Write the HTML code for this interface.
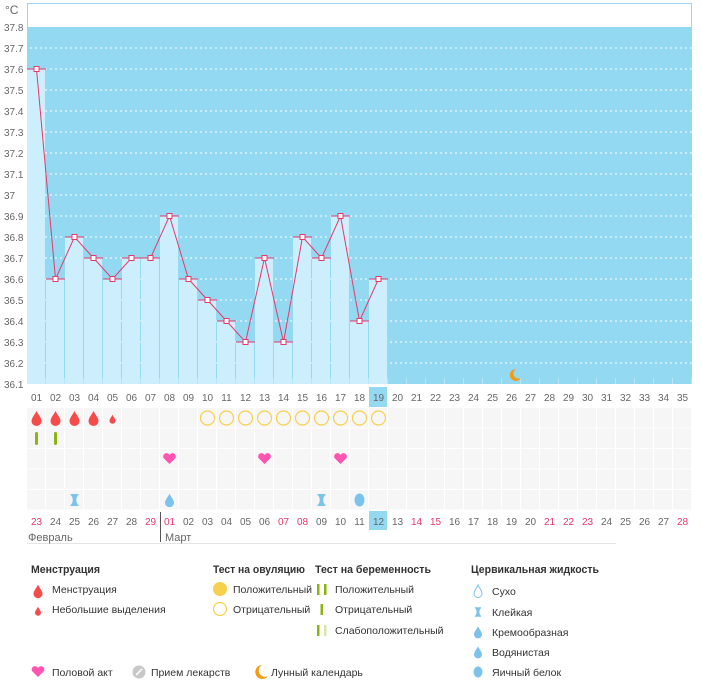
<!DOCTYPE html>
<html><head><meta charset="utf-8"><style>
body{margin:0;background:#fff;font-family:"Liberation Sans","DejaVu Sans",sans-serif;}
svg text{font-family:"Liberation Sans","DejaVu Sans",sans-serif;}
</style></head><body>
<svg id="s" width="701" height="679" xmlns="http://www.w3.org/2000/svg"></svg>
<script>
var s='';
function X(i){return 27+(i-1)*19;}
s+='<rect x="27.5" y="3.5" width="664" height="380" fill="#fff" stroke="#9ad8f0"/>';
s+='<rect x="27" y="27" width="665" height="357" fill="#93d9f2"/>';
s+='<text x="5" y="14" font-size="12" fill="#666">°C</text>';
var labs=['37.8','37.7','37.6','37.5','37.4','37.3','37.2','37.1','37','36.9','36.8','36.7','36.6','36.5','36.4','36.3','36.2','36.1'];
for(var k=0;k<18;k++){var y=27+k*21;s+='<text x="4" y="'+(y+4)+'" font-size="10" fill="#666">'+labs[k]+'</text>';
 if(k>0&&k<17)s+='<line x1="30" y1="'+y+'" x2="692" y2="'+y+'" stroke="#fff" stroke-dasharray="2,3" stroke-width="1"/>';}
var t=[37.6,36.6,36.8,36.7,36.6,36.7,36.7,36.9,36.6,36.5,36.4,36.3,36.7,36.3,36.8,36.7,36.9,36.4,36.6];
function Y(v){return 27+(37.8-v)*210;}
for(var i=1;i<=19;i++){var y=Y(t[i-1]);s+='<rect x="'+X(i)+'" y="'+y+'" width="18" height="'+(384-y)+'" fill="#cdeefd"/>';
 s+='<line x1="'+X(i)+'" y1="'+y+'" x2="'+(X(i)+19)+'" y2="'+y+'" stroke="#e8386a" stroke-width="1"/>';}
for(var i=1;i<=35;i++){s+='<line x1="'+(X(i)+18.5)+'" y1="378" x2="'+(X(i)+18.5)+'" y2="384" stroke="#b9e6f7"/>';}
var pts='';for(var i=1;i<=19;i++)pts+=(X(i)+9.5)+','+Y(t[i-1])+' ';
s+='<polyline points="'+pts+'" fill="none" stroke="#e8386a" stroke-width="1"/>';
for(var i=1;i<=19;i++)s+='<rect x="'+(X(i)+7)+'" y="'+(Y(t[i-1])-2.5)+'" width="5" height="5" fill="#fff" stroke="#e8386a"/>';
s+='<path d="M516 369 a6 6 0 1 0 5 9 a5 5 0 0 1 -5 -9z" fill="#f39c12"/>';
s+='<rect x="'+X(19)+'" y="387" width="18" height="20" fill="#93d9f2"/>';
for(var i=1;i<=35;i++){s+='<text x="'+(X(i)+9.5)+'" y="401" font-size="10" fill="#666" text-anchor="middle">'+(i<10?'0'+i:i)+'</text>';}
for(var r=0;r<5;r++)for(var i=1;i<=35;i++)s+='<rect x="'+X(i)+'" y="'+(408+r*20.5)+'" width="18" height="19.5" fill="#f6f6f7"/>';
function drop(cx,cy,sc,c){return '<path transform="translate('+cx+','+cy+') scale('+sc+')" d="M0 -7 C2 -3 5 0 5 3 A5 5 0 0 1 -5 3 C-5 0 -2 -3 0 -7z" fill="'+c+'"/>';}
for(var i=1;i<=4;i++)s+=drop(X(i)+9.5,418,1,'#f44b4b');
s+=drop(X(5)+9.5,419,0.6,'#f44b4b');
for(var i=10;i<=19;i++)s+='<circle cx="'+(X(i)+9.5)+'" cy="418" r="7" fill="none" stroke="#f7d14c" stroke-width="1.2"/>';
for(var i=1;i<=2;i++)s+='<rect x="'+(X(i)+8)+'" y="432" width="3" height="13" rx="1.5" fill="#8bb312"/>';
function heart(cx,cy,c){return '<path transform="translate('+cx+','+cy+')" d="M0 5 L-6 -1 A3.2 3.2 0 0 1 0 -4 A3.2 3.2 0 0 1 6 -1z" fill="'+c+'"/>';}
[8,13,17].forEach(function(i){s+=heart(X(i)+9.5,459,'#ff55b0');});
function hg(cx,cy,sc){return '<path transform="translate('+cx+','+cy+') scale('+(sc||1)+')" d="M-4 -6 H4 V-5 C1 -3 1 3 4 5 V6 H-4 V5 C-1 3 -1 -3 -4 -5z" fill="#7cc3ec"/>';}
s+=hg(X(3)+9.5,500)+hg(X(16)+9.5,500);
s+=drop(X(8)+9.5,500,0.9,'#7cc3ec');
s+='<ellipse cx="'+(X(18)+9.5)+'" cy="500" rx="5" ry="6.5" fill="#7cc3ec"/>';
var d=['23','24','25','26','27','28','29'];for(var i=1;i<=28;i++)d.push(i<10?'0'+i:''+i);
var red={'23':1,'29':1,'01':1,'07':1,'08':1,'14':1,'15':1,'21':1,'22':1,'28':1};
s+='<rect x="'+X(19)+'" y="511" width="18" height="19" fill="#93d9f2"/>';
for(var i=1;i<=35;i++){var dd=d[i-1];var c=(red[dd]&&!(i<=7&&dd!='23'&&dd!='29'))?'#e8386a':'#666';
 s+='<text x="'+(X(i)+9.5)+'" y="525" font-size="10" fill="'+c+'" text-anchor="middle">'+dd+'</text>';}
s+='<line x1="160.5" y1="512" x2="160.5" y2="542" stroke="#555"/>';
s+='<line x1="27" y1="543.5" x2="616" y2="543.5" stroke="#e4e4e4"/>';
s+='<text x="28" y="541" font-size="11" fill="#666">Февраль</text><text x="165" y="541" font-size="11" fill="#666">Март</text>';
function tx(x,y,str,b,L){return '<text x="'+x+'" y="'+y+'" font-size="'+(b?11:10.5)+'" fill="#333"'+(b?' font-weight="bold"':'')+(L?' textLength="'+L+'" lengthAdjust="spacingAndGlyphs"':'')+'>'+str+'</text>';}
s+=tx(31,573,'Менструация',1,69)+tx(213,573,'Тест на овуляцию',1,92)+tx(315,573,'Тест на беременность',1,116)+tx(471,573,'Цервикальная жидкость',1,128);
s+=drop(38,591,0.9,'#f44b4b')+tx(52,593,'Менструация');
s+=drop(38,611,0.6,'#f44b4b')+tx(52,613,'Небольшие выделения');
s+='<circle cx="220" cy="589" r="7" fill="#f7d14c"/>'+tx(233,593,'Положительный');
s+='<circle cx="220" cy="609" r="6.5" fill="none" stroke="#f7d14c" stroke-width="1.2"/>'+tx(233,613,'Отрицательный');
s+='<rect x="317" y="584" width="2.5" height="11" fill="#8bb312"/><rect x="324" y="584" width="2.5" height="11" fill="#8bb312"/>'+tx(335,593,'Положительный');
s+='<rect x="320.5" y="604" width="2.5" height="11" fill="#8bb312"/>'+tx(335,613,'Отрицательный');
s+='<rect x="317" y="625" width="2.5" height="11" fill="#8bb312"/><rect x="324" y="625" width="2.5" height="11" fill="#d4e7a8"/>'+tx(335,634,'Слабоположительный');
s+='<path transform="translate(478,591)" d="M0 -6 C2 -2 4 0 4 2.5 A4 4 0 0 1 -4 2.5 C-4 0 -2 -2 0 -6z" fill="none" stroke="#7cc3ec"/>'+tx(492,595,'Сухо');
s+=hg(478,612,0.8)+tx(492,616,'Клейкая');
s+=drop(478,632,0.8,'#7cc3ec')+tx(492,636,'Кремообразная');
s+=drop(478,652,0.8,'#7cc3ec')+tx(492,656,'Водянистая');
s+='<ellipse cx="478" cy="672" rx="4.5" ry="5.5" fill="#7cc3ec"/>'+tx(492,676,'Яичный белок');
s+=heart(38,672,'#ff55b0')+tx(52,676,'Половой акт');
s+='<circle cx="139" cy="672" r="6.5" fill="#c8c8c8"/><line x1="136" y1="675" x2="142" y2="669" stroke="#fff" stroke-width="1.5"/>'+tx(151,676,'Прием лекарств');
s+='<path d="M262 665 a7 7 0 1 0 6 11 a6 6 0 0 1 -6 -11z" fill="#f39c12"/>'+tx(271,676,'Лунный календарь');
document.getElementById('s').innerHTML=s;
</script>
</body></html>
